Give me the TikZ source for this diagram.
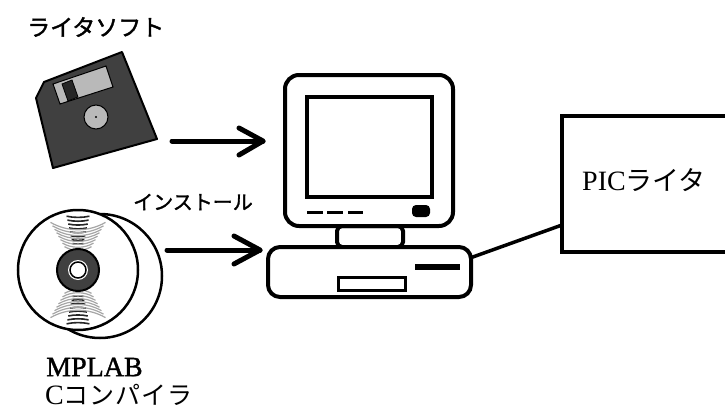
\documentclass[tikz,border=0pt]{standalone}
\usepackage{fontspec}
\setmainfont{Liberation Serif}
\newfontfamily\jp{Noto Sans CJK JP}
\newfontfamily\jpheavy{Noto Sans CJK JP}[FakeBold=1.6]
\newfontfamily\serifheavy{Liberation Serif}[FakeBold=1.4]
\usetikzlibrary{calc}

\tikzset{
  outline/.style={draw=black, line width=4pt},
  thinline/.style={draw=black, line width=2.5pt},
  feed/.style={line width=5pt, line cap=round},
  chevron/.style={line width=5pt, line cap=round, line join=round},
  caption/.style={inner sep=0pt, anchor=west},
  groove/.style={gray!70, line width=1.2pt},
}

\begin{document}
\begin{tikzpicture}[x=1pt, y=-1pt]
\useasboundingbox (0,0) rectangle (725,412);
\fill[white] (0,0) rectangle (725,412);

% ---- floppy disk ----
\coordinate (floppy) at (95,110);
\filldraw[fill=black!75, draw=black, line width=2pt, line join=round]
  (36,98) -- (44,82) -- (122,52) -- (157,139) -- (53,168) -- cycle;
\filldraw[fill=gray!55, draw=black, line width=1pt]
  (53,84) -- (106,66) -- (113,87) -- (60,104) -- cycle;
\filldraw[fill=black!85, draw=black, line width=0.8pt]
  (62,84) -- (72,80) -- (78,97) -- (68,101) -- cycle;
\filldraw[fill=gray!55, draw=black, line width=1pt] (96,117) circle (12);
\fill[black] (96,117) circle (1.2);

% ---- CD-ROM ----
\coordinate (cd) at (78,270);
\draw[thinline, fill=white] (100,276) circle (62);
\draw[thinline, fill=white] (78,270) circle (60);
\foreach \r in {27,31,...,55} {
  \draw[groove] ($(78,270)+(60:\r)$) arc[start angle=-60, end angle=-120, radius=\r];
  \draw[groove] ($(78,270)+(-60:\r)$) arc[start angle=60, end angle=120, radius=\r];
  \draw[gray!30!black, line width=1.6pt] ($(78,270)+(78:\r)$) arc[start angle=-78, end angle=-102, radius=\r];
  \draw[gray!30!black, line width=1.6pt] ($(78,270)+(-78:\r)$) arc[start angle=78, end angle=102, radius=\r];
}
\fill[black!75] (78,270) circle (21);
\draw[black, line width=2pt] (78,270) circle (21);
\fill[white] (78,270) circle (10);
\draw[black, line width=1.5pt] (78,270) circle (8);

% ---- computer ----
\draw[outline, rounded corners=14pt] (285,75) rectangle (453,226);
\draw[line width=3.5pt] (307,97) rectangle (432,197);
\foreach \a/\b in {307/323, 327/343, 348/363}
  \draw[line width=3pt] (\a,212) -- (\b,212);
\fill[black, rounded corners=4pt] (412,205) rectangle (430,217);
\draw[outline, rounded corners=5pt] (337,226) rectangle (403,247);
\draw[outline, fill=white, rounded corners=12pt] (268,247) rectangle (471,297);
\fill[black] (415,264) rectangle (460,270);
\draw[line width=3pt] (338,277) rectangle (405,290);
\coordinate (pcin1) at (263,141);
\coordinate (pcin2) at (260,250);
\coordinate (cableA) at (470,258);

% ---- PIC writer ----
\node[outline, minimum width=180pt, minimum height=136pt, anchor=north west,
      inner sep=0pt, outer sep=0pt] (pic) at (562,116) {};
\node[caption] (piclabel) at (582,180) {\fontsize{28}{30}\selectfont PIC{\jp\fontsize{27}{30}\selectfont ライタ}};
\coordinate (cableB) at (pic.west |- 0,225);
\draw[line width=3.5pt] (cableA) -- (cableB);

% ---- arrows into the computer ----
\coordinate (softout) at (172,141);
\coordinate (cdout) at (167,250);
\draw[feed] (softout) -- (pcin1);
\draw[chevron] ($(pcin1)+(-24,-13)$) -- (pcin1) -- ($(pcin1)+(-24,14)$);
\draw[feed] (cdout) -- (pcin2);
\draw[chevron] ($(pcin2)+(-26,-14)$) -- (pcin2) -- ($(pcin2)+(-26,14)$);

% ---- labels ----
\node[caption] (softlabel) at (27,27) {\jpheavy\fontsize{23}{26}\selectfont ライタソフト};
\node[caption] (installlabel) at (133,202) {\jpheavy\fontsize{20}{23}\selectfont インストール};
\node[caption] (mplab) at (46,367) {\serifheavy\fontsize{28}{30}\selectfont MPLAB};
\node[caption] (ccomp) at (45,395) {\fontsize{28}{30}\selectfont C{\jp\addfontfeatures{LetterSpace=4}\fontsize{25}{28}\selectfont コンパイラ}};
\end{tikzpicture}
\end{document}
